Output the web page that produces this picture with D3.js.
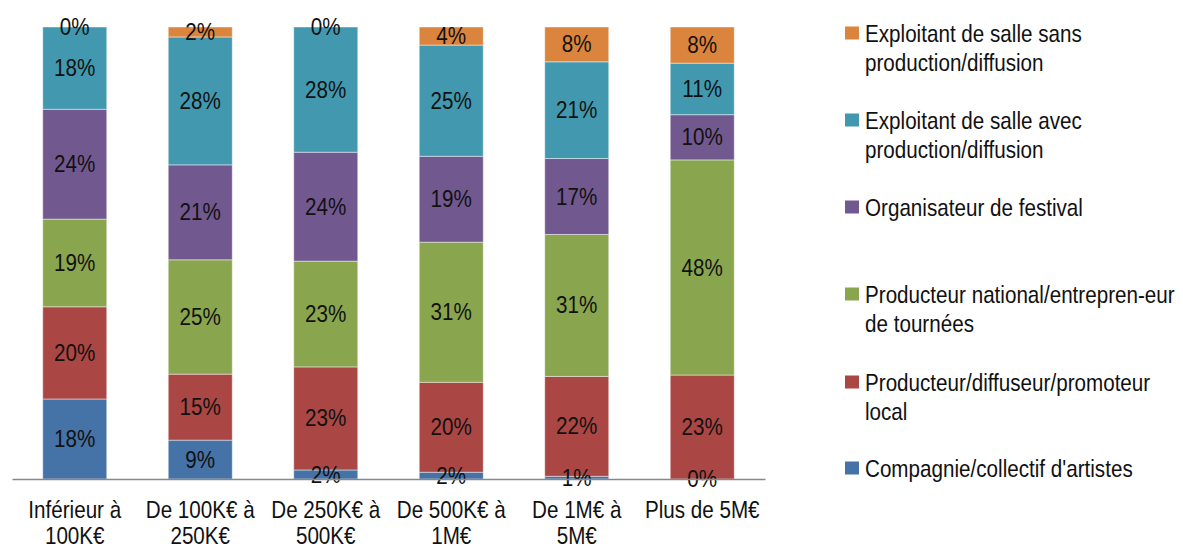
<!DOCTYPE html>
<html><head><meta charset="utf-8">
<script src="https://cdn.jsdelivr.net/npm/d3@7"></script>
<style>
body{margin:0;background:#fff;}
text{font-family:"Liberation Sans Narrow","Arial Narrow","Liberation Sans",sans-serif;fill:#111;}
</style></head>
<body><svg id="chart" width="1183" height="549"></svg>
<script>
const categories = ["Inférieur à\n100K€","De 100K€ à\n250K€","De 250K€ à\n500K€","De 500K€ à\n1M€","De 1M€ à\n5M€","Plus de 5M€"];
const seriesNames = ["Compagnie/collectif d'artistes","Producteur/diffuseur/promoteur\nlocal","Producteur national/entrepren-eur\nde tournées","Organisateur de festival","Exploitant de salle avec\nproduction/diffusion","Exploitant de salle sans\nproduction/diffusion"];
const compagnie   = [17.7, 8.6, 2.0, 1.5, 0.6, 0];
const prodLocal   = [20.4, 14.6, 22.8, 19.9, 22.1, 23.0];
const prodNational= [19.4, 25.3, 23.4, 31.0, 31.4, 47.6];
const festival    = [24.3, 21.0, 24.1, 19.0, 16.8, 10.0];
const salleAvec   = [18.2, 28.3, 27.7, 24.6, 21.4, 11.4];
const salleSans   = [0, 2.2, 0, 4.0, 7.7, 8.0];
const colors = ["#4572A7","#AA4643","#89A54E","#71588F","#4198AF","#DB843D"];

const FS = 24, SX = 0.86;
const seriesValues = [compagnie, prodLocal, prodNational, festival, salleAvec, salleSans];
const keys = seriesNames.map((d,i)=>"s"+i);
const rows = categories.map((c,ci)=>{const r={cat:c}; keys.forEach((k,si)=>r[k]=seriesValues[si][ci]); return r;});

const svg = d3.select("#chart");
const x = d3.scaleBand().domain(categories).range([12,765]).paddingInner(0.49).paddingOuter(0.245);
const y = d3.scaleLinear().domain([0,1]).range([479,27]);
const stack = d3.stack().keys(keys).offset(d3.stackOffsetExpand);
const layers = stack(rows);

const g = svg.append("g");
layers.forEach((layer,si)=>{
  g.selectAll(null).data(layer).enter().append("rect")
    .attr("x",d=>x(d.data.cat))
    .attr("width",x.bandwidth())
    .attr("y",d=>y(d[1]))
    .attr("height",d=>Math.max(0,y(d[0])-y(d[1])))
    .attr("fill",colors[si])
    .attr("stroke","rgba(255,255,255,0.45)")
    .attr("stroke-width",1);
});
// labels
layers.forEach((layer,si)=>{
  g.selectAll(null).data(layer).enter().append("text")
    .attr("transform",d=>`translate(${x(d.data.cat)+x.bandwidth()/2},${(y(d[0])+y(d[1]))/2}) scale(${SX},1)`)
    .attr("text-anchor","middle")
    .attr("dominant-baseline","central")
    .attr("font-size",FS)
    .text(d=>d.data[layer.key].toFixed(0)+"%");
});

// axis
const ax = svg.append("g").attr("transform","translate(0,479)")
  .call(d3.axisBottom(x).tickSize(0).tickPadding(0));
ax.select(".domain").attr("stroke","#888").attr("stroke-width",1.5);
ax.selectAll(".tick text").each(function(d){
  const t=d3.select(this); t.text(null).attr("y",0).attr("dy",null)
    .attr("font-size",FS).attr("fill","#111")
    .attr("transform",`scale(${SX},1)`)
    .style("font-family",'"Liberation Sans Narrow","Arial Narrow","Liberation Sans",sans-serif');
  d.split("\n").forEach((line,i)=>{
    t.append("tspan").attr("x",0).attr("y",39+i*26).text(line);
  });
});

// legend
const legendY = [468,382,294,207,120,33];
seriesNames.forEach((name,si)=>{
  const lg = svg.append("g").attr("transform",`translate(845,${legendY[si]})`);
  lg.append("rect").attr("x",0).attr("y",-6.5).attr("width",14).attr("height",13).attr("fill",colors[si]);
  const t = lg.append("text").attr("transform",`translate(20,0) scale(${SX},1)`).attr("font-size",FS).attr("dominant-baseline","central");
  name.split("\n").forEach((line,i)=>t.append("tspan").attr("x",0).attr("y",i*29).text(line));
});
</script></body></html>
